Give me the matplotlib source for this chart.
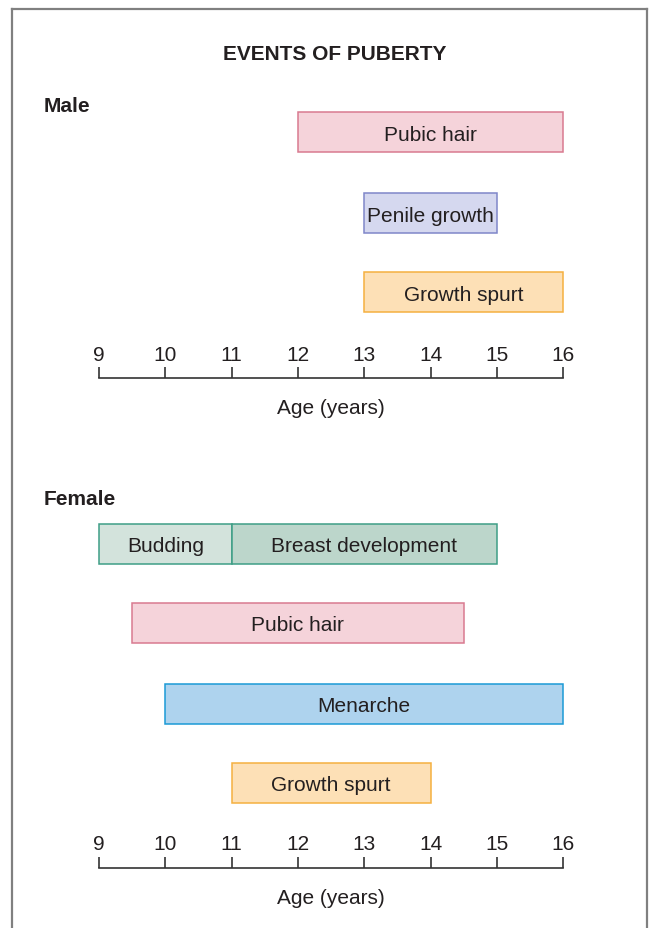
import matplotlib.pyplot as plt
from matplotlib.lines import Line2D

# Данные (возраст в годах)
ages = [9, 10, 11, 12, 13, 14, 15, 16]

male_events = ["Pubic hair", "Penile growth", "Growth spurt"]
male_start = [12, 13, 13]
male_end = [16, 15, 16]

female_events = ["Budding", "Breast development", "Pubic hair", "Menarche", "Growth spurt"]
female_start = [9, 11, 9.5, 10, 11]
female_end = [11, 15, 14.5, 16, 14]

# Оформление
male_rows = [133, 214, 293]
female_rows = [545, 545, 623.5, 705, 783.5]
male_fill = ["#f5d3da", "#d5d8ef", "#fde0b6"]
male_edge = ["#d97a90", "#7f86c9", "#f5b040"]
female_fill = ["#d3e3dc", "#bcd6cb", "#f5d3da", "#aed3ee", "#fde0b6"]
female_edge = ["#3e9e86", "#3e9e86", "#d97a90", "#1b9ad6", "#f5b040"]

TEXT = "#231f20"
FS = 15
plt.rcParams['font.family'] = ['Liberation Sans', 'DejaVu Sans']

W, H = 650, 929
px_per_year = 66.3
x0 = 9 - 99 / px_per_year

fig = plt.figure(figsize=(W / 100, H / 100), dpi=100)
ax = fig.add_axes([0, 0, 1, 1])
ax.set_xlim(x0, x0 + W / px_per_year)
ax.set_ylim(H, 0)
ax.axis("off")


def draw_bars(rows, starts, ends, names, fills, edges):
    for y, s, e, name, fc, ec in zip(rows, starts, ends, names, fills, edges):
        ax.barh(y, e - s, left=s, height=40, color=fc, edgecolor=ec, linewidth=1.1)
        ax.text((s + e) / 2, y, name, ha="center", va="center_baseline",
                fontsize=FS, color=TEXT)


def draw_axis(y_line):
    ax.plot([ages[0], ages[-1]], [y_line, y_line], color="#333333", lw=1.2)
    ax.vlines(ages, y_line - 11, y_line, color="#333333", lw=1.2)
    for a in ages:
        ax.text(a, y_line - 26, str(a), ha="center", va="center_baseline",
                fontsize=FS, color=TEXT)
    ax.text((ages[0] + ages[-1]) / 2, y_line + 28, "Age (years)", ha="center",
            va="center_baseline", fontsize=FS, color=TEXT)


# Заголовки
ax.text(335 / W, 1 - 53 / H, "EVENTS OF PUBERTY", transform=ax.transAxes, ha="center",
        va="center_baseline", fontsize=FS, fontweight="bold", color=TEXT)
ax.text(44 / W, 1 - 104 / H, "Male", transform=ax.transAxes, ha="left",
        va="center_baseline", fontsize=FS, fontweight="bold", color=TEXT)
ax.text(44 / W, 1 - 498 / H, "Female", transform=ax.transAxes, ha="left",
        va="center_baseline", fontsize=FS, fontweight="bold", color=TEXT)

draw_bars(male_rows, male_start, male_end, male_events, male_fill, male_edge)
draw_axis(379)
draw_bars(female_rows, female_start, female_end, female_events, female_fill, female_edge)
draw_axis(869)

# Рамка (снизу открыта)
frame = "#808080"
fig.add_artist(Line2D([12 / W, 12 / W], [0, 1 - 10 / H], color=frame, lw=1.6))
fig.add_artist(Line2D([12 / W, 647 / W], [1 - 10 / H, 1 - 10 / H], color=frame, lw=1.6))
fig.add_artist(Line2D([647 / W, 647 / W], [0, 1 - 10 / H], color=frame, lw=1.6))

plt.savefig("out.png", dpi=100)
